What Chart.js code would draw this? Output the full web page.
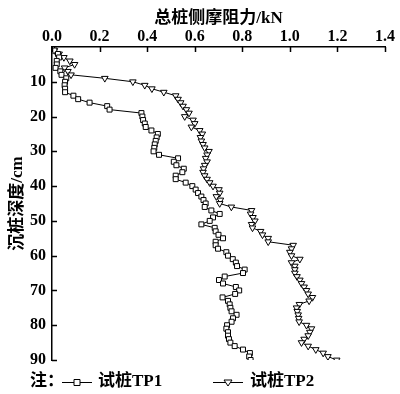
<!DOCTYPE html>
<html>
<head>
<meta charset="utf-8">
<script src="https://cdn.jsdelivr.net/npm/chart.js@4"></script>
<style>
  html, body { margin: 0; padding: 0; background: #fff; }
  #grafico { display: block; }
</style>
</head>
<body>
<canvas id="grafico" width="400" height="394"></canvas>
<script>
// profundidade (cm) e atrito lateral total (kN)
const profundidade = [
  0, 1, 2, 3, 4, 5, 6, 7, 8, 9, 10, 11, 12, 13, 14, 15, 16, 17, 18, 19,
  20, 21, 22, 23, 24, 25, 26, 27, 28, 29, 30, 31, 32, 33, 34, 35, 36, 37, 38, 39,
  40, 41, 42, 43, 44, 45, 46, 47, 48, 49, 50, 51, 52, 53, 54, 55, 56, 57, 58, 59,
  60, 61, 62, 63, 64, 65, 66, 67, 68, 69, 70, 71, 72, 73, 74, 75, 76, 77, 78, 79,
  80, 81, 82, 83, 84, 85, 86, 87, 88, 89, 90
];

const tp1 = [
  0.00, 0.01, 0.025, 0.03, 0.02, 0.02, 0.015, 0.035, 0.04, 0.06,
  0.055, 0.053, 0.055, 0.055, 0.09, 0.11, 0.158, 0.232, 0.242, 0.376,
  0.38, 0.383, 0.39, 0.394, 0.418, 0.445, 0.44, 0.436, 0.432, 0.43,
  0.427, 0.45, 0.53, 0.512, 0.523, 0.554, 0.548, 0.52, 0.52, 0.562,
  0.59, 0.604, 0.614, 0.628, 0.637, 0.646, 0.642, 0.67, 0.705, 0.677,
  0.663, 0.628, 0.684, 0.688, 0.70, 0.719, 0.688, 0.688, 0.698, 0.733,
  0.74, 0.76, 0.773, 0.778, 0.81, 0.803, 0.726, 0.702, 0.719, 0.773,
  0.787, 0.77, 0.717, 0.74, 0.747, 0.75, 0.755, 0.776, 0.761, 0.755,
  0.736, 0.733, 0.74, 0.74, 0.744, 0.75, 0.768, 0.803, 0.832, 0.829,
  0.835
];

const tp2 = [
  0.00, 0.01, 0.03, 0.05, 0.075, 0.095, 0.053, 0.067, 0.08, 0.222,
  0.34, 0.39, 0.42, 0.47, 0.52, 0.53, 0.541, 0.551, 0.565, 0.576,
  0.558, 0.593, 0.60, 0.586, 0.621, 0.632, 0.624, 0.628, 0.635, 0.642,
  0.66, 0.652, 0.646, 0.652, 0.642, 0.637, 0.635, 0.642, 0.652, 0.663,
  0.677, 0.702, 0.705, 0.691, 0.708, 0.705, 0.754, 0.839, 0.835, 0.845,
  0.853, 0.839, 0.843, 0.877, 0.885, 0.909, 0.909, 1.014, 1.007, 1.0,
  1.007, 1.042, 1.007, 1.021, 1.021, 1.021, 1.03, 1.042, 1.049, 1.06,
  1.07, 1.077, 1.095, 1.081, 1.04, 1.028, 1.031, 1.035, 1.037, 1.039,
  1.07, 1.091, 1.084, 1.077, 1.06, 1.049, 1.077, 1.109, 1.14, 1.16,
  1.197
];

const nomesSeries = ['试桩TP1', '试桩TP2'];
const tituloX = '总桩侧摩阻力/kN';
const tituloY = '沉桩深度/cm';

const fonteNum = '"Liberation Serif", "Times New Roman", serif';
const fonteCJK = '"Liberation Serif", "Noto Sans CJK SC", serif';

function pontos(valores) {
  return valores.map((v, i) => ({ x: v, y: profundidade[i] }));
}

// ticks voltados para dentro, como na figura original
const ticksInternos = {
  id: 'ticksInternos',
  afterDraw(chart) {
    const ctx = chart.ctx;
    const area = chart.chartArea;
    const sx = chart.scales.x;
    const sy = chart.scales.y;
    ctx.save();
    ctx.strokeStyle = '#000';
    ctx.lineWidth = 1.5;
    ctx.beginPath();
    sx.ticks.forEach(t => {
      const px = Math.round(sx.getPixelForValue(t.value)) + 0.5;
      ctx.moveTo(px, area.top);
      ctx.lineTo(px, area.top + 5);
    });
    sy.ticks.forEach(t => {
      if (t.value === 0) return;
      const py = Math.round(sy.getPixelForValue(t.value)) + 0.5;
      ctx.moveTo(area.left, py);
      ctx.lineTo(area.left + 5, py);
    });
    ctx.stroke();
    ctx.restore();
  }
};

// nota da legenda embaixo: 注：—□— 试桩TP1   —▽— 试桩TP2
const notaLegenda = {
  id: 'notaLegenda',
  afterDraw(chart) {
    const ctx = chart.ctx;
    const y = 382;
    ctx.save();
    ctx.fillStyle = '#000';
    ctx.strokeStyle = '#000';
    ctx.textBaseline = 'middle';
    ctx.font = 'bold 17px ' + fonteCJK;
    ctx.fillText('注：', 30, y);

    function amostra(x0, estilo) {
      ctx.lineWidth = 1;
      ctx.beginPath();
      ctx.moveTo(x0, y + 0.5);
      ctx.lineTo(x0 + 30, y + 0.5);
      ctx.stroke();
      const cx = x0 + 15;
      ctx.fillStyle = '#fff';
      ctx.beginPath();
      if (estilo === 'rect') {
        ctx.rect(cx - 3, y - 2.5, 6, 6);
      } else {
        ctx.moveTo(cx - 4, y - 2);
        ctx.lineTo(cx + 4, y - 2);
        ctx.lineTo(cx, y + 4);
        ctx.closePath();
      }
      ctx.fill();
      ctx.stroke();
      ctx.fillStyle = '#000';
    }

    amostra(62, 'rect');
    ctx.fillText(nomesSeries[0], 98, y);
    amostra(213, 'tri');
    ctx.fillText(nomesSeries[1], 250, y);
    ctx.restore();
  }
};

function serie(nome, valores, estilo, rotacao, raio) {
  return {
    label: nome,
    data: pontos(valores),
    borderColor: '#000',
    borderWidth: 1,
    backgroundColor: '#fff',
    pointStyle: estilo,
    pointRotation: rotacao,
    pointRadius: raio,
    pointBorderWidth: 1,
    pointBorderColor: '#000',
    pointBackgroundColor: '#fff',
    tension: 0,
    showLine: true
  };
}

new Chart(document.getElementById('grafico'), {
  type: 'scatter',
  data: {
    datasets: [
      serie(nomesSeries[0], tp1, 'rect', 0, 3.5),
      serie(nomesSeries[1], tp2, 'triangle', 180, 3.8)
    ]
  },
  options: {
    responsive: false,
    animation: false,
    layout: { padding: { left: 0, right: 15, top: 0, bottom: 34 } },
    plugins: {
      legend: { display: false },
      tooltip: { enabled: false }
    },
    scales: {
      x: {
        type: 'linear',
        position: 'top',
        min: 0,
        max: 1.4,
        afterFit: s => { s.height = 47; },
        border: { display: true, color: '#000', width: 1.5 },
        grid: { drawOnChartArea: false, drawTicks: false },
        ticks: {
          stepSize: 0.2,
          padding: 1,
          color: '#000',
          font: { family: fonteNum, size: 16, weight: 'bold' },
          callback: v => v.toFixed(1)
        },
        title: {
          display: true,
          text: tituloX,
          color: '#000',
          font: { family: fonteCJK, size: 17, weight: 'bold' },
          padding: { top: 8, bottom: 0 }
        }
      },
      y: {
        type: 'linear',
        reverse: true,
        min: 0,
        max: 90,
        afterFit: s => { s.width = 52; },
        border: { display: true, color: '#000', width: 1.5 },
        grid: { drawOnChartArea: false, drawTicks: false },
        ticks: {
          stepSize: 10,
          padding: 6,
          color: '#000',
          font: { family: fonteNum, size: 16, weight: 'bold' },
          callback: v => (v === 0 ? '' : v)
        },
        title: {
          display: true,
          text: tituloY,
          color: '#000',
          font: { family: fonteCJK, size: 17, weight: 'bold' },
          padding: { top: 7, bottom: 0 }
        }
      }
    }
  },
  plugins: [ticksInternos, notaLegenda]
});
</script>
</body>
</html>
